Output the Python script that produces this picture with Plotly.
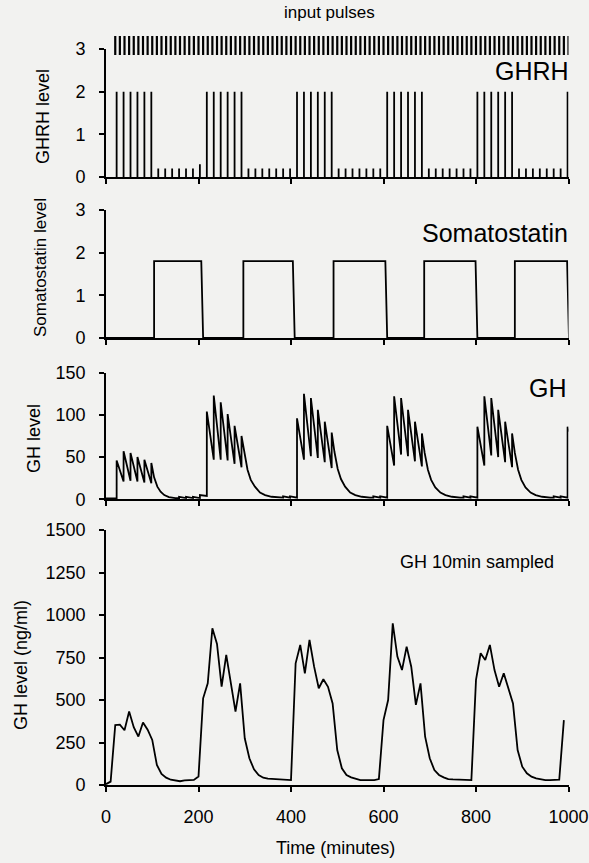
import plotly.graph_objects as go

# ---------------- data ----------------
# input pulse train (minutes)
input_t = [20, 30, 40, 50, 60, 70, 80, 90, 100, 110, 120, 130, 140, 150, 160, 170, 180, 190,
           200, 210, 220, 230, 240, 250, 260, 270, 280, 290, 300, 310, 320, 330, 340, 350, 360,
           370, 380, 390, 400, 410, 420, 430, 440, 450, 460, 470, 480, 490, 500, 510, 520, 530,
           540, 550, 560, 570, 580, 590, 600, 610, 620, 630, 640, 650, 660, 670, 680, 690, 700,
           710, 720, 730, 740, 750, 760, 770, 780, 790, 800, 810, 820, 830, 840, 850, 860, 870,
           880, 890, 900, 910, 920, 930, 940, 950, 960, 970, 980, 990, 1000]

# GHRH pulses: times (minutes) and amplitudes
ghrh_t = [23, 38, 53, 68, 83, 98, 113, 128, 143, 158, 173, 188, 203,
          218, 233, 248, 263, 278, 293, 308, 323, 338, 353, 368, 383, 398,
          413, 428, 443, 458, 473, 488, 503, 518, 533, 548, 563, 578, 593,
          608, 623, 638, 653, 668, 683, 698, 713, 728, 743, 758, 773, 788,
          803, 818, 833, 848, 863, 878, 893, 908, 923, 938, 953, 968, 983,
          998]
ghrh_amp = [2, 2, 2, 2, 2, 2, 0.2, 0.2, 0.2, 0.2, 0.2, 0.2, 0.3,
            2, 2, 2, 2, 2, 2, 0.2, 0.2, 0.2, 0.2, 0.2, 0.2, 0.2,
            2, 2, 2, 2, 2, 2, 0.2, 0.2, 0.2, 0.2, 0.2, 0.2, 0.2,
            2, 2, 2, 2, 2, 2, 0.2, 0.2, 0.2, 0.2, 0.2, 0.2, 0.2,
            2, 2, 2, 2, 2, 2, 0.2, 0.2, 0.2, 0.2, 0.2, 0.2, 0.2,
            2]

# somatostatin square pulses
soma_on = [104, 297, 492, 688, 884]
soma_off = [206, 404, 604, 799, 997]
soma_level = 1.8
soma_fall = 4  # minutes to decay back to zero

# simulated GH (continuous)
gh_t = [0, 23, 23, 38, 38, 53, 53, 68, 68, 83, 83, 98, 98,
        104, 111, 118, 126, 136, 150, 158, 158, 173, 173, 188, 188, 203, 203,
        218, 218, 233, 233, 248, 248, 263, 263, 278, 278, 293, 293,
        299, 306, 313, 322, 333, 344, 358, 376, 383, 383, 398, 398, 413,
        413, 428, 428, 443, 443, 458, 458, 473, 473, 488, 488,
        494, 501, 508, 517, 528, 539, 553, 571, 578, 578, 593, 593, 608,
        608, 623, 623, 638, 638, 653, 653, 668, 668, 683, 683,
        689, 696, 703, 712, 723, 734, 748, 766, 773, 773, 788, 788, 803,
        803, 818, 818, 833, 833, 848, 848, 863, 863, 878, 878,
        884, 891, 898, 907, 918, 929, 943, 961, 968, 968, 983, 983, 998,
        998, 1000]
gh_v = [1, 1, 46, 21, 57, 22, 55, 21, 50, 20, 47, 19, 43,
        26, 15, 9, 5, 2.5, 1.5, 1.5, 3, 1.5, 3, 1.5, 3, 1.5, 5,
        4, 104, 47, 123, 47, 115, 46, 101, 42, 87, 38, 75,
        54, 35, 23, 15, 8, 5, 3, 2, 2, 3.5, 2, 3.5, 2,
        96, 47, 125, 51, 120, 49, 106, 44, 92, 37, 79,
        56, 36, 24, 15, 8, 5, 3, 2, 2, 3.5, 2, 3.5, 2,
        87, 40, 122, 53, 120, 51, 106, 45, 92, 39, 78,
        55, 35, 23, 14, 8, 5, 3, 2, 2, 3.5, 2, 3.5, 2,
        86, 40, 122, 52, 120, 50, 106, 44, 92, 38, 78,
        55, 35, 23, 14, 8, 5, 3, 2, 2, 3.5, 2, 3.5, 2,
        86, 80]

# GH sampled every 10 minutes (ng/ml)
samp_t = list(range(0, 1000, 10))
samp_v = [5, 20, 353, 355, 322, 432, 340, 285, 368, 325,
          265, 118, 65, 43, 31, 25, 22, 27, 27, 30,
          50, 510, 598, 922, 830, 578, 765, 588, 432, 598,
          275, 157, 92, 59, 43, 37, 35, 33, 31, 31,
          29, 716, 824, 657, 853, 696, 569, 622, 578, 480,
          206, 98, 59, 45, 35, 29, 29, 29, 29, 35,
          382, 500, 951, 755, 676, 814, 696, 471, 598, 284,
          157, 88, 59, 45, 35, 33, 33, 33, 33, 29,
          618, 775, 735, 824, 676, 578, 657, 569, 480, 206,
          108, 69, 49, 39, 33, 29, 29, 29, 31, 382]

x_ticks = [0, 200, 400, 600, 800, 1000]

# ---------------- figure ----------------
W, H = 589, 863
FONT = "Liberation Sans, Arial, Helvetica, sans-serif"
BG = "#f2f2f0"
LW = 1.8


def fy(px):
    return 1 - px / H


def fx(px):
    return px / W


XD = [fx(106), fx(568.5)]

fig = go.Figure()

# input pulses (own strip above GHRH panel)
ix, iy = [], []
for t in input_t:
    ix += [t, t, None]
    iy += [0, 1, None]
fig.add_trace(go.Scatter(x=ix, y=iy, mode="lines", line=dict(color="black", width=2.2),
                         xaxis="x5", yaxis="y5", showlegend=False, hoverinfo="skip"))

# GHRH spikes
gx, gy = [], []
for t, a in zip(ghrh_t, ghrh_amp):
    gx += [t, t, None]
    gy += [0, a, None]
fig.add_trace(go.Scatter(x=gx, y=gy, mode="lines", line=dict(color="black", width=LW),
                         xaxis="x", yaxis="y", showlegend=False))

# somatostatin steps
sx, sy = [0], [0]
for on, off in zip(soma_on, soma_off):
    sx += [on, on, off, off + soma_fall]
    sy += [0, soma_level, soma_level, 0]
fig.add_trace(go.Scatter(x=sx, y=sy, mode="lines", line=dict(color="black", width=LW),
                         xaxis="x2", yaxis="y2", showlegend=False))

# GH continuous
fig.add_trace(go.Scatter(x=gh_t, y=gh_v, mode="lines", line=dict(color="black", width=LW),
                         xaxis="x3", yaxis="y3", showlegend=False))

# GH sampled
fig.add_trace(go.Scatter(x=samp_t, y=samp_v, mode="lines", line=dict(color="black", width=LW),
                         xaxis="x4", yaxis="y4", showlegend=False))

axis_common = dict(showline=True, linecolor="black", linewidth=1.7, ticks="outside",
                   ticklen=5, tickwidth=1.7, tickcolor="black", showgrid=False,
                   zeroline=False, automargin=False,
                   tickfont=dict(family=FONT, size=18, color="black"))

panels = [
    # (x name, y name, y range, y ticks, y domain px [bottom, top])
    ("xaxis", "yaxis", [0, 3], [0, 1, 2, 3], (177, 49)),
    ("xaxis2", "yaxis2", [0, 3], [0, 1, 2, 3], (338, 210)),
    ("xaxis3", "yaxis3", [0, 150], [0, 50, 100, 150], (499.3, 372.7)),
    ("xaxis4", "yaxis4", [0, 1500], [0, 250, 500, 750, 1000, 1250, 1500], (785, 530)),
]
layout_axes = {}
for i, (xn, yn, yr, yt, (yb, ytop)) in enumerate(panels, start=1):
    sfx = "" if i == 1 else str(i)
    layout_axes[xn] = dict(axis_common, domain=XD, range=[0, 1000], tickvals=x_ticks,
                           anchor="y" + sfx, showticklabels=(i == 4),
                           ticklabelstandoff=10)
    layout_axes[yn] = dict(axis_common, domain=[fy(yb), fy(ytop)], range=yr, tickvals=yt,
                           anchor="x" + sfx, ticklabelstandoff=10)

layout_axes["xaxis5"] = dict(domain=XD, range=[0, 1000], visible=False, anchor="y5")
layout_axes["yaxis5"] = dict(domain=[fy(55), fy(36)], range=[0, 1], visible=False, anchor="x5")


def ann(text, x, y, size, xanchor="center", angle=0):
    return dict(text=text, x=fx(x), y=fy(y), xref="paper", yref="paper", showarrow=False,
                xanchor=xanchor, yanchor="middle", textangle=angle,
                font=dict(family=FONT, size=size, color="black"))


annotations = [
    ann("input pulses", 329, 13, 17),
    ann("GHRH", 571, 71, 25, xanchor="right"),
    ann("Somatostatin", 570, 233, 25, xanchor="right"),
    ann("GH", 569, 388, 25, xanchor="right"),
    ann("GH 10min sampled", 556, 562, 18, xanchor="right"),
    ann("Time (minutes)", 335, 848, 18),
    ann("GHRH level", 43, 117, 18, angle=-90),
    ann("Somatostatin level", 40, 268, 17, angle=-90),
    ann("GH level", 34, 439, 18, angle=-90),
    ann("GH level (ng/ml)", 21, 665, 18, angle=-90),
]

fig.update_layout(width=W, height=H, margin=dict(l=0, r=0, t=0, b=0),
                  paper_bgcolor=BG, plot_bgcolor=BG, showlegend=False,
                  annotations=annotations, **layout_axes)

fig.write_html("out.html")
